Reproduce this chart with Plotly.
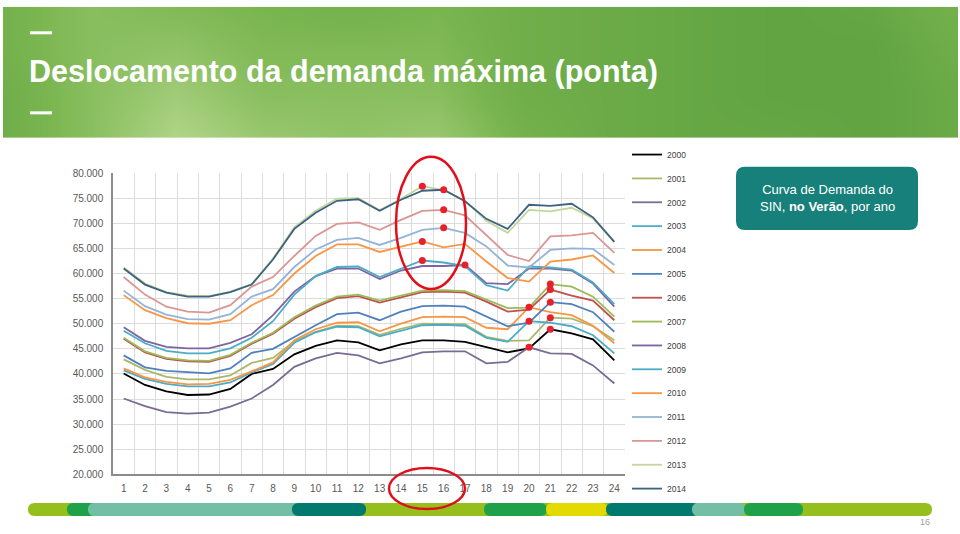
import numpy as np
import plotly.graph_objects as go

W, H = 960, 534

hours = list(range(1, 25))
years = [str(y) for y in range(2000, 2015)]

# demanda (MW) por hora, verao de cada ano
d2000 = [40100, 37800, 36500, 35800, 35900, 37000, 40000, 41000, 43900, 45600, 46700, 46300,
         44700, 45900, 46700, 46700, 46400, 45400, 44300, 45100, 48900, 48100, 46900, 42700]
d2001 = [42900, 40800, 39400, 38900, 38900, 39700, 42200, 43200, 46500, 48400, 49600, 49500,
         47800, 49000, 50000, 50000, 49900, 47400, 46600, 46700, 51200, 51000, 49500, 46700]
d2002 = [35100, 33600, 32400, 32100, 32300, 33500, 35100, 37800, 41400, 43100, 44200, 43700,
         42100, 43100, 44300, 44500, 44500, 42100, 42400, 45300, 44100, 44000, 41700, 38100]
d2003 = [40700, 39000, 38000, 37500, 37500, 38300, 40300, 42000, 46200, 48300, 49400, 49300,
         47500, 48600, 49700, 49800, 49600, 47200, 46400, 50500, 50200, 49500, 47700, 44100]
d2004 = [41100, 39300, 38400, 37900, 38000, 38800, 40500, 42300, 46700, 48900, 50200, 50300,
         48500, 50000, 51300, 51400, 51300, 49200, 48900, 53300, 52300, 51700, 49600, 46100]
d2005 = [43700, 41300, 40600, 40300, 40100, 41100, 44200, 45000, 47400, 49700, 51900, 52200,
         50700, 52400, 53500, 53600, 53400, 51400, 49500, 50200, 54300, 53900, 52300, 48400]
d2006 = [47000, 44300, 43000, 42500, 42400, 43600, 46000, 48000, 51000, 53300, 55100, 55500,
         54200, 55300, 56300, 56400, 56200, 54400, 52400, 52800, 56800, 55600, 54600, 50700]
d2007 = [47200, 44500, 43200, 42700, 42600, 43800, 46200, 48200, 51300, 53600, 55400, 55800,
         54600, 55600, 56600, 56700, 56500, 54800, 53100, 53200, 57900, 57400, 55400, 51400]
d2008 = [49300, 46600, 45400, 45100, 45100, 46200, 47900, 51700, 56400, 59500, 61000, 61000,
         58900, 60600, 61500, 61500, 61700, 58100, 57900, 61000, 61000, 60600, 58000, 53400]
d2009 = [48600, 46100, 44600, 44100, 44100, 45100, 47200, 50500, 55800, 59500, 61300, 61400,
         59300, 60900, 62600, 62200, 61500, 57700, 56600, 61400, 61200, 60800, 58200, 53900]
d2010 = [55700, 52700, 51100, 50100, 50000, 50700, 53700, 55700, 60000, 63500, 65800, 65800,
         64300, 65400, 66400, 65200, 65900, 62400, 59100, 58400, 62400, 62800, 63600, 60100]
d2011 = [56600, 53500, 51800, 50900, 50800, 51900, 55400, 56900, 61300, 64800, 66700, 67100,
         65700, 67100, 68700, 69100, 68100, 65400, 61600, 61200, 64700, 65000, 64900, 61700]
d2012 = [59300, 55800, 53400, 52400, 52200, 53700, 57400, 59300, 63500, 67500, 69900, 70200,
         68700, 70700, 72500, 72700, 71600, 67700, 63700, 62500, 67400, 67600, 68100, 64100]
d2013 = [61200, 58000, 56300, 55600, 55500, 56400, 57900, 63000, 69200, 72500, 74900, 75000,
         72600, 74900, 77400, 76600, 74500, 70500, 68100, 72700, 72400, 73100, 71000, 66300]
d2014 = [61000, 57800, 56200, 55400, 55400, 56300, 57800, 62800, 68900, 72100, 74500, 74800,
         72500, 74700, 76500, 76700, 74400, 70900, 68900, 73700, 73500, 73900, 71200, 66300]

series = [d2000, d2001, d2002, d2003, d2004, d2005, d2006, d2007,
          d2008, d2009, d2010, d2011, d2012, d2013, d2014]
colors = ["#000000", "#a9b86a", "#786c94", "#4bacc6", "#f79646", "#4f81bd", "#c0504d", "#9bbb59",
          "#8064a2", "#4bacc6", "#f79646", "#95b3d7", "#d99694", "#c3d69b", "#3c6381"]


def px(x):
    return x / W


def py(y):
    # the captured page comes out slightly squeezed vertically, so correct for it
    return 1 - ((y - 6.2) / 0.979) / H


def rounded(x0, y0, x1, y1, r):
    pts = [("M", x0 + r, y0), ("L", x1 - r, y0), ("Q", x1, y0, x1, y0 + r), ("L", x1, y1 - r),
           ("Q", x1, y1, x1 - r, y1), ("L", x0 + r, y1), ("Q", x0, y1, x0, y1 - r),
           ("L", x0, y0 + r), ("Q", x0, y0, x0 + r, y0)]
    s = ""
    for p in pts:
        s += p[0]
        coords = p[1:]
        s += " ".join(f"{px(coords[i]):.5f},{py(coords[i+1]):.5f}" for i in range(0, len(coords), 2))
        s += " "
    return s + "Z"


fig = go.Figure()

# faixa verde do titulo (textura aproximada)
banner_z = [[0.40, 0.60, 0.85, 0.70, 0.65, 0.70, 0.45, 0.35, 0.30, 0.30, 0.25, 0.35],
            [0.40, 0.60, 0.75, 0.60, 0.60, 0.60, 0.40, 0.35, 0.30, 0.25, 0.25, 0.35],
            [0.45, 0.60, 0.65, 0.55, 0.55, 0.55, 0.40, 0.35, 0.30, 0.25, 0.25, 0.40],
            [0.45, 0.60, 0.55, 0.50, 0.45, 0.50, 0.40, 0.35, 0.30, 0.25, 0.30, 0.45]]
fig.add_trace(go.Heatmap(z=banner_z, xaxis="x2", yaxis="y2", zsmooth="best", showscale=False,
                         colorscale=[[0, "#4a9235"], [0.5, "#79b54f"], [1, "#c8e29f"]],
                         zmin=0, zmax=1, hoverinfo="skip"))

for i, (name, vals) in enumerate(zip(years, series)):
    fig.add_trace(go.Scatter(x=hours, y=vals, name=name, mode="lines",
                             line=dict(color=colors[i], width=1.8),
                             legendgroup=name))

# pontos de demanda maxima de cada ano
peak_x = [hours[int(np.argmax(s))] for s in series]
peak_y = [max(s) for s in series]
fig.add_trace(go.Scatter(x=peak_x, y=peak_y, mode="markers", showlegend=False,
                         marker=dict(color="#e8202a", size=7)))

shapes = []
# barra decorativa inferior
bar = [(28, 932, "#95bf1c"), (67, 96, "#1fa149"), (88, 300, "#72bfa6"), (292, 366, "#00796f"),
       (484, 547, "#1fa149"), (546, 608, "#e2da00"), (606, 699, "#00796f"), (692, 746, "#72bfa6"),
       (744, 803, "#1fa149")]
for x0, x1, c in bar:
    shapes.append(dict(type="path", xref="paper", yref="paper", path=rounded(x0, 504, x1, 517, 6.5),
                       fillcolor=c, line=dict(width=0), layer="below"))
# tracos do cabecalho
for yy in (34, 114):
    shapes.append(dict(type="line", xref="paper", yref="paper", x0=px(30), x1=px(52), y0=py(yy), y1=py(yy),
                       line=dict(color="white", width=3)))
# caixa de texto
shapes.append(dict(type="path", xref="paper", yref="paper", path=rounded(736, 168, 918, 231, 9),
                   fillcolor="#18807a", line=dict(width=0)))
# elipses vermelhas
shapes.append(dict(type="circle", xref="paper", yref="paper", x0=px(396), x1=px(466), y0=py(158), y1=py(290),
                   line=dict(color="#e10f1a", width=2.5)))
shapes.append(dict(type="circle", xref="paper", yref="paper", x0=px(389), x1=px(465), y0=py(469), y1=py(510),
                   line=dict(color="#e10f1a", width=2.5)))

annotations = [
    dict(text="<b>Deslocamento da demanda máxima (ponta)</b>", x=px(27), y=py(73), xref="paper", yref="paper",
         xanchor="left", yanchor="middle", showarrow=False,
         font=dict(family="Liberation Sans", size=30.5, color="white")),
    dict(text="Curva de Demanda do<br>SIN, <b>no Verão</b>, por ano", x=px(827), y=py(199), xref="paper",
         yref="paper", xanchor="center", yanchor="middle", showarrow=False,
         font=dict(family="Liberation Sans", size=13, color="white")),
    dict(text="16", x=px(932), y=1 - 528 / H, xref="paper", yref="paper", xanchor="right", yanchor="middle",
         showarrow=False, font=dict(family="Liberation Sans", size=9, color="#a0a0a0")),
]

fig.update_layout(
    width=W, height=H,
    margin=dict(l=0, r=0, t=0, b=0),
    paper_bgcolor="white", plot_bgcolor="white",
    separators=",.",
    shapes=shapes, annotations=annotations,
    xaxis=dict(domain=[px(113), px(625)], range=[0.5, 24.5], tickvals=hours, showgrid=False,
               minor=dict(tickvals=[h + 0.5 for h in range(0, 25)], showgrid=True, gridcolor="#dcdcdc",
                          gridwidth=1),
               showline=True, linecolor="#8c8c8c", linewidth=1.5, ticks="", zeroline=False,
               ticklabelstandoff=4,
               tickfont=dict(family="Liberation Sans", size=10, color="#595959")),
    yaxis=dict(domain=[py(475.3), py(174.3)], range=[20000, 80000], dtick=5000, tickformat=",.0f",
               showgrid=True, gridcolor="#dcdcdc", showline=True, linecolor="#8c8c8c", linewidth=1.5,
               ticks="", zeroline=False, ticklabelstandoff=6,
               tickfont=dict(family="Liberation Sans", size=10, color="#595959")),
    xaxis2=dict(domain=[px(3), px(958)], visible=False, anchor="y2", range=[0, 11], fixedrange=True),
    yaxis2=dict(domain=[py(139), py(8)], visible=False, anchor="x2", range=[0, 3], fixedrange=True),
    legend=dict(x=px(627), y=1 - 137.9 / H, xanchor="left", yanchor="top", tracegroupgap=4.86,
                bgcolor="rgba(0,0,0,0)", font=dict(family="Liberation Sans", size=8.5, color="#404040")),
    showlegend=True,
)

js = ("document.documentElement.style.margin='0';document.body.style.margin='0';"
      "document.body.style.padding='0';document.documentElement.style.overflow='hidden';"
      "document.body.style.overflow='hidden';"
      "var gd=document.getElementById('{plot_id}');gd.parentElement.style.lineHeight='0';"
      "gd.parentElement.style.height='534px';")
fig.write_html("out.html", config={"displayModeBar": False}, post_script=js)
